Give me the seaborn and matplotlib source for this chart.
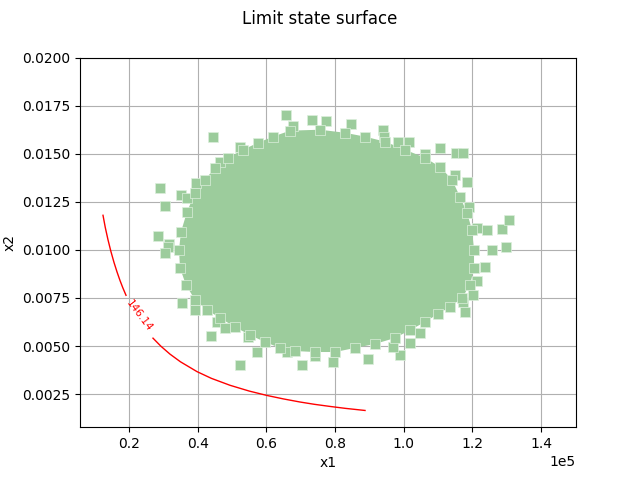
import matplotlib
matplotlib.use("Agg")
import matplotlib.pyplot as plt
import seaborn as sns
import pandas as pd
from matplotlib.ticker import MultipleLocator

# Dense core of the sample cloud (outline)
core_x1 = [66900, 75640, 82920, 88750, 94570, 100400, 106220, 110590, 114090, 116420,
           118460, 119920, 120500, 120500, 119330, 117000, 113510, 110010, 106220, 101860,
           97490, 91660, 85830, 80010, 74180, 68360, 63990, 59620, 55250, 50880,
           46510, 42720, 39230, 36600, 34860, 34570, 35150, 36900, 39230, 42140,
           45050, 48840, 53210, 57580, 61950]
core_x2 = [0.01620, 0.01625, 0.01609, 0.01589, 0.01563, 0.01521, 0.01479, 0.01432, 0.01365, 0.01276,
           0.01193, 0.01104, 0.01000, 0.00906, 0.00818, 0.00750, 0.00703, 0.00667, 0.00625, 0.00583,
           0.00542, 0.00511, 0.00490, 0.00469, 0.00469, 0.00474, 0.00490, 0.00521, 0.00557, 0.00599,
           0.00646, 0.00688, 0.00740, 0.00818, 0.00906, 0.01000, 0.01094, 0.01198, 0.01297, 0.01365,
           0.01427, 0.01479, 0.01521, 0.01557, 0.01589]

# Isolated sample points near the edge of the cloud
out_x1 = [44470, 65730, 67770, 29030, 35150, 36900, 30490, 39520, 28450, 31650,
          46510, 52330, 31360, 30490, 35440, 39230, 43890, 52330, 45630, 47960,
          54660, 57290, 66030, 70400, 73310, 77390, 84670, 93990, 94280, 98360,
          101560, 110590, 115260, 117290, 106220, 74180, 79430, 89620, 98940, 96900,
          101860, 104770, 114960, 118460, 119040, 121370, 124290, 128660, 130690, 125740,
          129820, 123700, 121370, 120210, 117290, 117880]
out_x2 = [0.01589, 0.01703, 0.01646, 0.01323, 0.01287, 0.01271, 0.01229, 0.01349, 0.01073, 0.01031,
          0.01458, 0.01536, 0.01016, 0.00984, 0.00724, 0.00688, 0.00552, 0.00401, 0.00625, 0.00594,
          0.00547, 0.00469, 0.00469, 0.00401, 0.01677, 0.01672, 0.01656, 0.01625, 0.01589, 0.01563,
          0.01563, 0.01531, 0.01505, 0.01505, 0.01500, 0.00448, 0.00417, 0.00432, 0.00453, 0.00495,
          0.00516, 0.00568, 0.01391, 0.01354, 0.01224, 0.01115, 0.01104, 0.01109, 0.01156, 0.01000,
          0.01016, 0.00912, 0.00839, 0.00766, 0.00729, 0.00677]

# Limit state contour (two pieces around the inline label)
curve_a_x1 = [12430, 13100, 13880, 14700, 15630, 16500, 17380, 18200, 19130]
curve_a_x2 = [0.01180, 0.01116, 0.01053, 0.00994, 0.00935, 0.00886, 0.00841, 0.00803, 0.00764]
curve_b_x1 = [26990, 29300, 31940, 35000, 39810, 44000, 49420, 55000, 60200, 65000, 69810, 74000, 78550, 83000, 88750]
curve_b_x2 = [0.00541, 0.00499, 0.00458, 0.00418, 0.00367, 0.00332, 0.00296, 0.00266, 0.00243, 0.00225, 0.00209, 0.00197, 0.00186, 0.00176, 0.00165]
level_label = "146.14"
label_x1, label_x2 = 22910, 0.00656

title = "Limit state surface"

green = "#9ccc9c"
edge = "#dcefdc"

fig, ax = plt.subplots(figsize=(6.4, 4.8), dpi=100)
ax.set_axisbelow(True)
ax.grid(True, color="#b0b0b0", linewidth=0.8)

ax.fill(core_x1, core_x2, color=green, zorder=2, linewidth=0)
pts = pd.DataFrame({"x1": out_x1 + core_x1, "x2": out_x2 + core_x2})
sns.scatterplot(data=pts, x="x1", y="x2", marker="s", s=42, color=green,
                edgecolor=edge, linewidth=0.5, ax=ax, zorder=3)

sns.lineplot(x=curve_a_x1, y=curve_a_x2, sort=False, estimator=None, color="red", linewidth=1, ax=ax, zorder=4)
sns.lineplot(x=curve_b_x1, y=curve_b_x2, sort=False, estimator=None, color="red", linewidth=1, ax=ax, zorder=4)
ax.text(label_x1, label_x2, level_label, color="red", fontsize=7.5, rotation=-53,
        ha="center", va="center", rotation_mode="anchor", zorder=5)

ax.set_xlim(5730, 150200)
ax.set_ylim(0.00078, 0.0200)
ax.yaxis.set_major_locator(MultipleLocator(0.0025))
ax.xaxis.set_major_locator(MultipleLocator(20000))
ax.ticklabel_format(axis="x", style="sci", scilimits=(0, 0))
ax.set_xlabel("x1")
ax.set_ylabel("x2")
fig.suptitle(title)

fig.savefig("out.png", dpi=100)
